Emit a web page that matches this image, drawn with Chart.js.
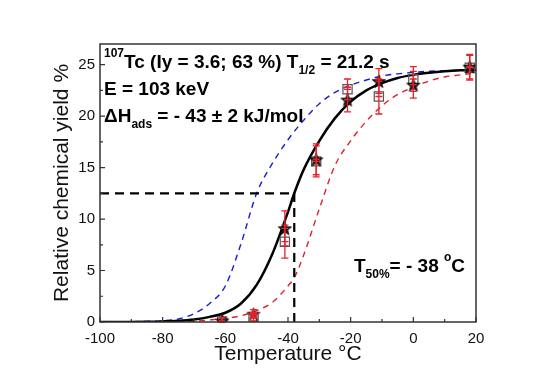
<!DOCTYPE html>
<html><head><meta charset="utf-8">
<script src="https://cdn.jsdelivr.net/npm/chart.js@4.4.0/dist/chart.umd.min.js"></script>
<style>html,body{margin:0;padding:0;background:#fff}#wrap{width:553px;height:388px}</style>
</head><body><div id="wrap"><canvas id="c"></canvas></div>
<script>
// ---- data ----
const temps       = [-61, -51, -41, -31, -21, -11, 0, 18];
const starYield   = [0.15, 0.8, 9.1, 15.8, 21.6, 23.4, 23.05, 24.8];
const starErr     = [0.3, 0.4, 1.7, 1.5, 1.2, 1.2, 1.3, 1.2];
const squareYield = [0.05, 0.5, 7.8, 15.6, 22.6, 21.9, 23.6, 24.7];
const squareErr   = [0.3, 0.4, 1.6, 1.5, 1.0, 1.7, 1.2, 1.2];
const curveT      = [-100,-90,-85,-80,-75,-70,-65,-60,-55,-50,-45,-40,-38,-35,-30,-25,-20,-15,-10,-5,0,5,10,15,20];
const fitYield    = [0,0.01,0.03,0.06,0.12,0.25,0.5,0.9,1.8,3.6,6.6,10.7,12.5,14.8,17.6,19.8,21.4,22.5,23.2,23.7,24.0,24.2,24.35,24.45,24.5];
const blueYield   = [0,0.03,0.06,0.12,0.3,0.8,1.8,3.5,7.6,12.5,15.4,17.7,18.5,19.6,21.2,22.3,23.0,23.5,23.9,24.1,24.25,24.35,24.4,24.45,24.5];
const redYield    = [0,0,0,0.01,0.03,0.08,0.2,0.35,0.6,1.1,1.9,3.5,4.3,6.5,11.0,15.2,17.6,19.5,21.0,22.1,22.8,23.4,23.8,24.0,24.2];
const t50 = -38;
const y50 = 12.5;
const xTicks = [-100, -80, -60, -40, -20, 0, 20];
const yTicks = [0, 5, 10, 15, 20, 25];

const pts = (xs, ys) => xs.map((x, i) => ({x, y: ys[i]}));

function makeStar(fill, stroke){
  const c = document.createElement('canvas'); c.width = 16; c.height = 16;
  const g = c.getContext('2d');
  g.beginPath();
  for (let i = 0; i < 10; i++) {
    const r = i % 2 ? 2.9 : 7;
    const a = -Math.PI/2 + i*Math.PI/5;
    g.lineTo(8 + r*Math.cos(a), 8.8 + r*Math.sin(a));
  }
  g.closePath(); g.fillStyle = fill; g.fill();
  g.strokeStyle = stroke; g.lineWidth = 0.8; g.stroke();
  return c;
}
const blackStar = makeStar('#1c1c1c', '#000');
const redStar = makeStar('#e41b1b', '#333');
const starStyles = temps.map((t, i) => i === 1 ? redStar : blackStar);

const FONT = '"Liberation Sans", Arial, sans-serif';

function richText(ctx, x, y, parts, size){
  let cx = x;
  for (const p of parts) {
    const s = p.s ? Math.round(size*0.62) : size;
    ctx.font = `bold ${s}px ${FONT}`;
    const dy = p.s === 'sup' ? -size*0.58 : p.s === 'sub' ? size*0.3 : 0;
    ctx.fillText(p.t, cx, y + dy);
    cx += ctx.measureText(p.t).width;
  }
}

const extras = {
  id: 'extras',
  afterDatasetsDraw(chart){
    const {ctx, scales: {x, y}} = chart;
    ctx.save();
    ctx.strokeStyle = '#e8202a'; ctx.lineWidth = 1.3;
    const bars = (ys, es) => temps.forEach((t, i) => {
      const px = x.getPixelForValue(t);
      const top = y.getPixelForValue(ys[i] + es[i]);
      const bot = y.getPixelForValue(Math.max(0, ys[i] - es[i]));
      const mid = y.getPixelForValue(ys[i]);
      ctx.beginPath();
      ctx.moveTo(px, top); ctx.lineTo(px, bot);
      ctx.moveTo(px-3.5, top); ctx.lineTo(px+3.5, top);
      ctx.moveTo(px-3.5, bot); ctx.lineTo(px+3.5, bot);
      ctx.moveTo(px-3.5, mid); ctx.lineTo(px+3.5, mid);
      ctx.stroke();
    });
    bars(starYield, starErr);
    bars(squareYield, squareErr);
    ctx.restore();
  },
  afterDraw(chart){
    const {ctx, chartArea: a, scales: {x, y}} = chart;
    ctx.save();
    ctx.strokeStyle = '#333'; ctx.lineWidth = 1.5;
    ctx.strokeRect(a.left, a.top, a.right - a.left, a.bottom - a.top);
    ctx.lineWidth = 1.2;
    ctx.beginPath();
    for (let v = -100; v <= 20; v += 10) {
      const px = x.getPixelForValue(v);
      const len = v % 20 === 0 ? 5 : 3;
      ctx.moveTo(px, a.bottom); ctx.lineTo(px, a.bottom - len);
    }
    for (let v = 0; v <= 27; v += 2.5) {
      const py = y.getPixelForValue(v);
      const len = v % 5 === 0 ? 5 : 3;
      ctx.moveTo(a.left, py); ctx.lineTo(a.left + len, py);
    }
    ctx.stroke();
    ctx.fillStyle = '#000';
    ctx.textBaseline = 'alphabetic';
    richText(ctx, 104, 68, [{t:'107', s:'sup'}, {t:'Tc (Iy = 3.6; 63 %) T'}, {t:'1/2', s:'sub'}, {t:' = 21.2 s'}], 19);
    richText(ctx, 104, 95, [{t:'E = 103 keV'}], 19);
    richText(ctx, 104, 122, [{t:'\u0394H'}, {t:'ads', s:'sub'}, {t:' = - 43 \u00B1 2 kJ/mol'}], 19);
    richText(ctx, 354, 272, [{t:'T'}, {t:'50%', s:'sub'}, {t:'= - 38 '}, {t:'o', s:'sup'}, {t:'C'}], 19);
    ctx.restore();
  }
};

new Chart(document.getElementById('c'), {
  type: 'scatter',
  data: {
    datasets: [
      {data: pts(temps, starYield), pointStyle: starStyles, pointRadius: 7, showLine: false},
      {data: pts(temps, squareYield), pointStyle: 'rect', pointRadius: 6.5, pointBorderColor: '#555', pointBackgroundColor: 'rgba(255,255,255,0)', pointBorderWidth: 1.2, showLine: false},
      {data: pts(curveT, fitYield), showLine: true, borderColor: '#000', borderWidth: 2.5, pointRadius: 0, cubicInterpolationMode: 'monotone'},
      {data: [{x: -100, y: y50}, {x: t50, y: y50}], showLine: true, borderColor: '#000', borderWidth: 2.2, borderDash: [9, 6], pointRadius: 0},
      {data: [{x: t50, y: 0}, {x: t50, y: y50}], showLine: true, borderColor: '#000', borderWidth: 2.2, borderDash: [9, 6], pointRadius: 0},
      {data: pts(curveT, blueYield), showLine: true, borderColor: '#1a1ad6', borderWidth: 1.4, borderDash: [6, 5], pointRadius: 0, cubicInterpolationMode: 'monotone'},
      {data: pts(curveT, redYield), showLine: true, borderColor: '#e0202a', borderWidth: 1.4, borderDash: [6, 5], pointRadius: 0, cubicInterpolationMode: 'monotone'}
    ]
  },
  options: {
    responsive: true, maintainAspectRatio: false, animation: false,
    layout: {padding: {left: 0, right: 77, top: 44, bottom: 0}},
    plugins: {legend: {display: false}, tooltip: {enabled: false}},
    scales: {
      x: {
        type: 'linear', min: -100, max: 20,
        afterFit: s => { s.height = 66; },
        afterBuildTicks: s => { s.ticks = xTicks.map(v => ({value: v})); },
        grid: {display: false, drawTicks: false},
        border: {display: false},
        ticks: {font: {family: FONT, size: 15}, color: '#111', padding: 8, maxRotation: 0},
        title: {display: true, text: 'Temperature \u00B0C', font: {family: FONT, size: 21}, color: '#111', padding: {top: 0, bottom: 21}}
      },
      y: {
        type: 'linear', min: 0, max: 27,
        afterFit: s => { s.width = 100; },
        afterBuildTicks: s => { s.ticks = yTicks.map(v => ({value: v})); },
        grid: {display: false, drawTicks: false},
        border: {display: false},
        ticks: {font: {family: FONT, size: 15}, color: '#111', padding: 5},
        title: {display: true, text: 'Relative chemical yield %', font: {family: FONT, size: 21}, color: '#111', padding: {top: 50, bottom: 0}}
      }
    }
  },
  plugins: [extras]
});
</script></body></html>
